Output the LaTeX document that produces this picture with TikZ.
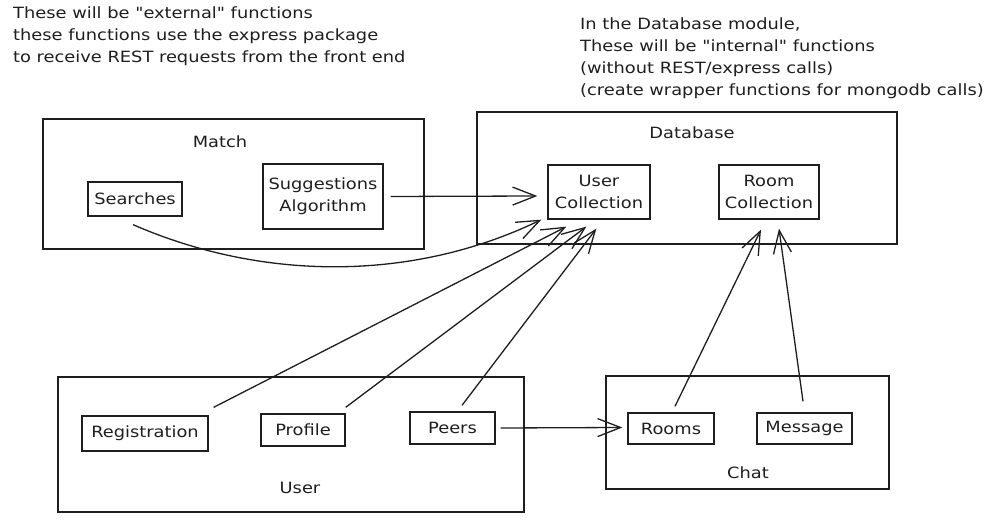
\documentclass[tikz,border=0pt]{standalone}
\usepackage{fontspec}
\newfontfamily\handfont{DejaVu Sans}[FakeStretch=1.15]
\newcommand{\handtext}{\handfont\fontsize{15.5}{22}\selectfont}
\definecolor{ink}{RGB}{30, 30, 30}
\usetikzlibrary{arrows.meta, positioning}

\begin{document}
\begin{tikzpicture}[x=1pt, y=-1pt,
    box/.style={draw=ink, line width=1.3pt, inner sep=0pt, text=ink, font=\handtext},
    lbl/.style={text=ink, inner sep=0pt, font=\handtext},
    note/.style={text=ink, inner sep=0pt, align=left, anchor=north west, font=\handtext},
    link/.style={draw=ink, line width=1.3pt, -{Straight Barb[length=23pt, width=18pt]}}]
  \useasboundingbox (0,0) rectangle (989,526);

  % Notes
  \node[note] (extnote) at (13,7) {These will be "external" functions\\these functions use the express package\\to receive REST requests from the front end};
  \node[note] (intnote) at (580,18) {In the Database module,\\These will be "internal" functions\\(without REST/express calls)\\(create wrapper functions for mongodb calls)};

  % Match module
  \node[box, minimum width=381, minimum height=130] (match) at (233.5,184) {};
  \node[lbl] (matchlbl) at (220,142) {Match};
  \node[box, minimum width=94, minimum height=34] (searches) at (135,199) {Searches};
  \node[box, minimum width=120, minimum height=65, align=center] (suggest) at (323,196.5) {Suggestions\\Algorithm};

  % Database module
  \node[box, minimum width=420, minimum height=132] (database) at (687,178) {};
  \node[lbl] (dblbl) at (692,133) {Database};
  \node[box, minimum width=102, minimum height=54, align=center] (usercoll) at (599,192) {User\\Collection};
  \node[box, minimum width=100, minimum height=54, align=center] (roomcoll) at (769,192) {Room\\Collection};

  % User module
  \node[box, minimum width=466, minimum height=135] (userbox) at (291,444.5) {};
  \node[lbl] (userlbl) at (300,488) {User};
  \node[box, minimum width=126, minimum height=35] (registration) at (145,433.5) {Registration};
  \node[box, minimum width=84, minimum height=32] (profile) at (303,430) {Profile};
  \node[box, minimum width=85, minimum height=32] (peers) at (452.5,428) {Peers};

  % Chat module
  \node[box, minimum width=283, minimum height=113] (chat) at (747.5,432.5) {};
  \node[lbl] (chatlbl) at (748,473) {Chat};
  \node[box, minimum width=86, minimum height=31] (rooms) at (671,428.5) {Rooms};
  \node[box, minimum width=95, minimum height=31] (message) at (804.5,428.5) {Message};

  % Calls into the user collection
  \draw[link] ([shift={(7,0)}]suggest.east) -- ([shift={(-10,4)}]usercoll.west);
  \draw[link] ([shift={(-2,8)}]searches.south) .. controls (260,280) and (410,283) .. ([shift={(-6,0)}]usercoll.south west);
  \draw[link] ([shift={(5,-8)}]registration.north east) -- ([shift={(19,7)}]usercoll.south west);
  \draw[link] ([shift={(0,-6)}]profile.north east) -- ([shift={(39,7)}]usercoll.south west);
  \draw[link] ([shift={(9.5,-6)}]peers.north) -- ([shift={(49,9)}]usercoll.south west);

  % Chat calls
  \draw[link] ([shift={(5,0)}]peers.east) -- ([shift={(-5,-1)}]rooms.west);
  \draw[link] ([shift={(4,-6)}]rooms.north) -- ([shift={(-8,10)}]roomcoll.south);
  \draw[link] ([shift={(-1.5,-11)}]message.north) -- ([shift={(10,9)}]roomcoll.south);
\end{tikzpicture}
\end{document}
